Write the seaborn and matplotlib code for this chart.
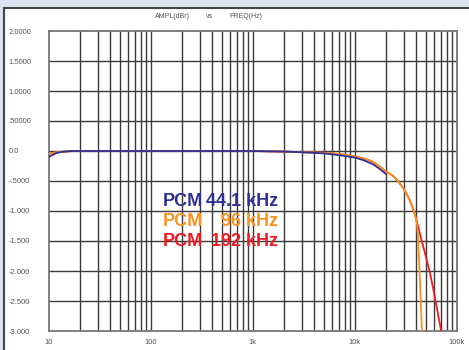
import matplotlib
matplotlib.use("Agg")
import matplotlib.pyplot as plt
import matplotlib.patches as mpatches
import numpy as np
import pandas as pd
import seaborn as sns

# Frequency response of the DAC at three PCM sample rates
freq_441 = [10, 11, 12, 14, 17, 20, 50, 100, 1000, 2000, 3000, 5000, 7000,
            10000, 12000, 15000, 17500, 20000]
db_441 = [-0.10, -0.06, -0.03, -0.01, 0.0, 0.0, 0.0, 0.0, 0.0, -0.01, -0.02,
          -0.04, -0.07, -0.11, -0.15, -0.22, -0.30, -0.38]

freq_96 = [10, 11, 12, 14, 17, 20, 50, 100, 1000, 2000, 3000, 5000, 7000,
           10000, 12500, 15000, 17500, 20000, 23500, 25700, 28000, 30000,
           32400, 35000, 37000, 39000, 40500, 41500, 42600, 44000, 45300]
db_96 = [-0.05, -0.03, -0.02, -0.01, 0.0, 0.0, 0.0, 0.0, 0.0, -0.01, -0.02,
         -0.03, -0.05, -0.09, -0.13, -0.18, -0.26, -0.34, -0.41, -0.48, -0.56,
         -0.63, -0.73, -0.85, -0.96, -1.08, -1.20, -1.45, -1.87, -2.45, -3.00]

freq_192 = [10, 11, 12, 14, 17, 20, 50, 100, 1000, 2000, 3000, 5000, 7000,
            10000, 12500, 15000, 17500, 20000, 23500, 25700, 28000, 30000,
            32400, 35000, 37000, 39000, 40500, 44000, 48500, 54300, 58200,
            64000, 70000]
db_192 = [-0.05, -0.03, -0.02, -0.01, 0.0, 0.0, 0.0, 0.0, 0.0, -0.01, -0.02,
          -0.03, -0.05, -0.09, -0.13, -0.18, -0.26, -0.34, -0.41, -0.48, -0.56,
          -0.63, -0.73, -0.85, -0.96, -1.08, -1.18, -1.43, -1.70, -2.03, -2.28,
          -2.65, -3.00]

series_names = ["PCM 44.1 kHz", "PCM 96 kHz", "PCM 192 kHz"]
series_colors = ["#2e3192", "#f7931e", "#ed1c24"]

y_ticks = [2.0, 1.5, 1.0, 0.5, 0.0, -0.5, -1.0, -1.5, -2.0, -2.5, -3.0]
y_tick_labels = ["2.0000", "1.5000", "1.0000", ".50000", "0.0", "-.5000",
                 "-1.000", "-1.500", "-2.000", "-2.500", "-3.000"]
x_ticks = [10, 100, 1000, 10000, 100000]
x_tick_labels = ["10", "100", "1k", "10k", "100k"]

df = pd.concat([
    pd.DataFrame({"freq": freq_441, "db": db_441, "series": series_names[0]}),
    pd.DataFrame({"freq": freq_96, "db": db_96, "series": series_names[1]}),
    pd.DataFrame({"freq": freq_192, "db": db_192, "series": series_names[2]}),
])

sns.set_style("white")
plt.rcParams["font.family"] = ["Liberation Sans", "DejaVu Sans"]

W, H = 469, 350
fig = plt.figure(figsize=(W / 100, H / 100), dpi=100)
fig.patch.set_facecolor("#dbe5f1")

# white panel with dark border
panel = mpatches.Rectangle((4 / W, -0.01), (W - 4) / W + 0.01, (H - 8) / H + 0.01,
                           transform=fig.transFigure, facecolor="white",
                           edgecolor="#444444", linewidth=1.5, zorder=-5)
fig.patches.append(panel)

ax = fig.add_axes([49 / W, (H - 331) / H, (457 - 49) / W, (331 - 31) / H])
ax.set_zorder(2)
ax.set_facecolor("white")

# highest rate drawn first so the lower rates sit on top
draw_order = series_names[::-1]
sns.lineplot(data=df, x="freq", y="db", hue="series",
             palette=dict(zip(series_names, series_colors)),
             hue_order=draw_order, ax=ax, legend=False, linewidth=1.3,
             sort=False, estimator=None, zorder=3)

ax.set_xscale("log")
ax.set_xlim(10, 100000)
ax.set_ylim(-3.0, 2.0)

# grid: every decade step and every 0.5 dB
for dec in [10, 100, 1000, 10000]:
    for m in range(1, 10):
        f = dec * m
        if 10 < f < 100000:
            ax.axvline(f, color="#3a3a3a", linewidth=1.0, zorder=1)
for y in y_ticks:
    if -3.0 < y < 2.0:
        ax.axhline(y, color="#3a3a3a", linewidth=1.0, zorder=1)

for s in ax.spines.values():
    s.set_color("#777777")
    s.set_linewidth(1.3)

ax.set_yticks(y_ticks)
ax.set_yticklabels(y_tick_labels)
ax.set_xticks(x_ticks)
ax.set_xticklabels(x_tick_labels)
ax.xaxis.set_minor_locator(matplotlib.ticker.NullLocator())
ax.tick_params(axis="y", length=0, pad=29, labelsize=5.5, labelcolor="#555555")
ax.tick_params(axis="x", length=0, pad=6, labelsize=5.5, labelcolor="#555555")
for lab in ax.get_yticklabels():
    lab.set_horizontalalignment("left")
ax.set_xlabel("")
ax.set_ylabel("")

# header
fig.text(172 / W, 1 - 16 / H, "AMPL(dBr)", fontsize=5.0, color="#555555",
         ha="center", va="center")
fig.text(210 / W, 1 - 16 / H, "vs", fontsize=5.0, color="#555555",
         ha="center", va="center")
fig.text(246 / W, 1 - 16 / H, "FREQ(Hz)", fontsize=5.0, color="#555555",
         ha="center", va="center")

# sample-rate labels
label_rows = [("PCM", "44.1 kHz", 202), ("PCM", "96 kHz", 221), ("PCM", "192 kHz", 241)]
for (left, right, ypx), col in zip(label_rows, series_colors):
    fig.text(163 / W, 1 - ypx / H, left, fontsize=13, fontweight="bold",
             color=col, ha="left", va="center", zorder=10)
    fig.text(278 / W, 1 - ypx / H, right, fontsize=13, fontweight="bold",
             color=col, ha="right", va="center", zorder=10)

fig.savefig("out.png", dpi=100, facecolor=fig.get_facecolor())
